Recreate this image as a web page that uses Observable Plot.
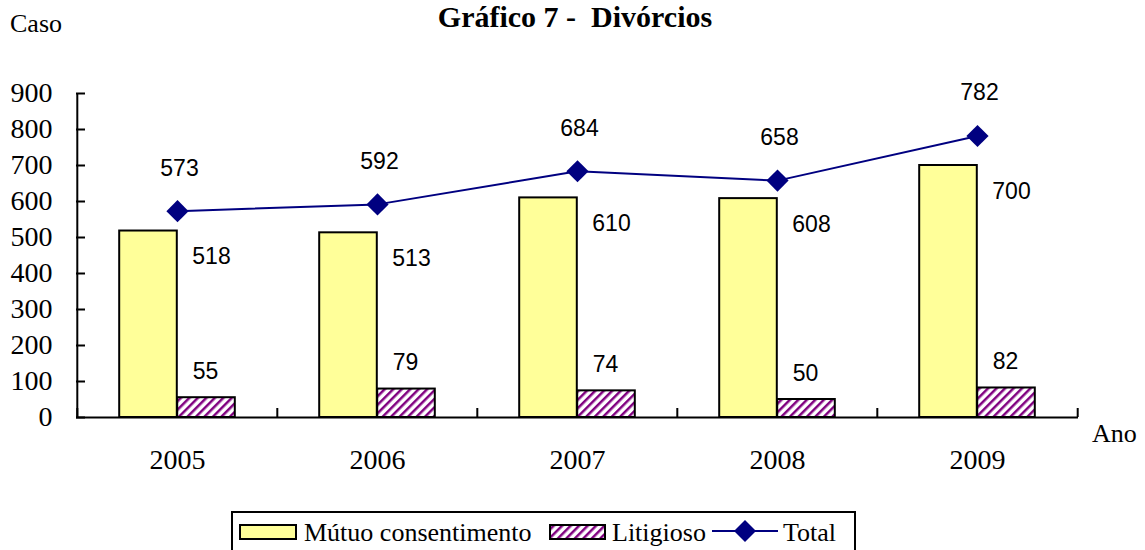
<!DOCTYPE html>
<html>
<head>
<meta charset="utf-8">
<script src="https://cdn.jsdelivr.net/npm/d3@7"></script>
<script src="https://cdn.jsdelivr.net/npm/@observablehq/plot@0.6"></script>
<style>
  body { margin: 0; background: #fff; }
  #chart { position: relative; width: 1145px; height: 550px; overflow: hidden; }
</style>
</head>
<body>
<div id="chart"></div>
<script>
// ---- data ----
const years = ["2005", "2006", "2007", "2008", "2009"];
const mutuo = [518, 513, 610, 608, 700];
const litigioso = [55, 79, 74, 50, 82];
const total = [573, 592, 684, 658, 782];
const yTicks = [0, 100, 200, 300, 400, 500, 600, 700, 800, 900];
const seriesNames = ["Mútuo consentimento", "Litigioso", "Total"];
const titleText = "Gráfico 7 -  Divórcios";
const yLabel = "Caso";
const xLabel = "Ano";

// ---- layout ----
const rows = years.map((year, i) => ({year, mutuo: mutuo[i], litigioso: litigioso[i], total: total[i]}));
const W = 1145, H = 550, mL = 76, mR = 67, mT = 93, mB = 133;
const plotW = W - mL - mR, plotH = H - mT - mB;
const bw = plotW / years.length;
const barW = 58;
const serif = "Liberation Serif, Times New Roman, serif";
const sans = "Liberation Sans, Arial, sans-serif";
const yellow = "#FFFF99", purple = "#800080", navy = "#000080";

const plot = Plot.plot({
  width: W, height: H,
  marginLeft: mL, marginRight: mR, marginTop: mT, marginBottom: mB,
  style: {fontFamily: serif, fontSize: "28px", background: "white", color: "black"},
  x: {type: "band", domain: years, padding: 0},
  y: {domain: [0, 900]},
  marks: [
    Plot.barY(rows, {x: "year", y: "mutuo", fill: yellow, stroke: "black", strokeWidth: 2,
      insetLeft: bw / 2 - barW, insetRight: bw / 2}),
    Plot.barY(rows, {x: "year", y: "litigioso", fill: "url(#hatch)", stroke: "black", strokeWidth: 2,
      insetLeft: bw / 2, insetRight: bw / 2 - barW}),
    Plot.ruleY([0], {stroke: "black", strokeWidth: 2}),
    Plot.ruleX([years[0]], {dx: -bw / 2, stroke: "black", strokeWidth: 2}),
    Plot.ruleY(yTicks, {insetRight: plotW - 9, stroke: "black", strokeWidth: 2}),
    Plot.ruleX(years, {dx: -bw / 2, insetTop: plotH - 9, stroke: "black", strokeWidth: 2}),
    Plot.ruleX([years[years.length - 1]], {dx: bw / 2, insetTop: plotH - 9, stroke: "black", strokeWidth: 2}),
    Plot.line(rows, {x: "year", y: "total", stroke: navy, strokeWidth: 2}),
    Plot.dot(rows, {x: "year", y: "total", symbol: "diamond2", r: 10, fill: navy, stroke: "none"}),
    Plot.text(rows, {x: "year", y: "mutuo", text: d => String(d.mutuo), dx: 34, dy: 26,
      fontFamily: sans, fontSize: 23, fill: "black"}),
    Plot.text(rows, {x: "year", y: "litigioso", text: d => String(d.litigioso), dx: 28, dy: -26,
      fontFamily: sans, fontSize: 23, fill: "black"}),
    Plot.text(rows, {x: "year", y: "total", text: d => String(d.total), dx: 2, dy: -43,
      fontFamily: sans, fontSize: 23, fill: "black"}),
    Plot.axisY({ticks: yTicks, tickSize: 0, tickPadding: 24, label: null, tickFormat: d => String(d),
      fontFamily: serif, fontSize: 28, fill: "black"}),
    Plot.axisX({tickSize: 0, tickPadding: 32, label: null, fontFamily: serif, fontSize: 28, fill: "black"})
  ]
});

const svg = d3.select(plot);
svg.insert("defs", ":first-child").html(`
  <pattern id="hatch" patternUnits="userSpaceOnUse" width="6" height="6" patternTransform="rotate(45)">
    <rect width="6" height="6" fill="white"></rect>
    <rect x="0" y="0" width="2.5" height="6" fill="${purple}"></rect>
  </pattern>`);

// title and axis names
svg.append("text").attr("x", 575).attr("y", 27).attr("text-anchor", "middle")
  .attr("font-family", serif).attr("font-size", 30).attr("font-weight", "bold")
  .attr("fill", "black").attr("xml:space", "preserve").style("white-space", "pre").text(titleText);
svg.append("text").attr("x", 10).attr("y", 32).attr("text-anchor", "start")
  .attr("font-family", serif).attr("font-size", 26).attr("fill", "black").text(yLabel);
svg.append("text").attr("x", 1092).attr("y", 442).attr("text-anchor", "start")
  .attr("font-family", serif).attr("font-size", 26).attr("fill", "black").text(xLabel);

// legend
const lg = svg.append("g").attr("fill", "black");
lg.append("rect").attr("x", 232).attr("y", 512).attr("width", 623).attr("height", 60)
  .attr("fill", "white").attr("stroke", "black").attr("stroke-width", 2);
lg.append("rect").attr("x", 240).attr("y", 525).attr("width", 56).attr("height", 14)
  .attr("fill", yellow).attr("stroke", "black").attr("stroke-width", 2);
lg.append("rect").attr("x", 550).attr("y", 525).attr("width", 55).attr("height", 14)
  .attr("fill", "url(#hatch)").attr("stroke", "black").attr("stroke-width", 2);
lg.append("line").attr("x1", 712).attr("x2", 778).attr("y1", 531).attr("y2", 531)
  .attr("stroke", navy).attr("stroke-width", 2);
lg.append("path").attr("d", "M745,520L756,531L745,542L734,531Z").attr("fill", navy);
[[304, seriesNames[0]], [612, seriesNames[1]], [783, seriesNames[2]]].forEach(([x, t]) => {
  lg.append("text").attr("x", x).attr("y", 541).attr("text-anchor", "start")
    .attr("font-family", serif).attr("font-size", 26).attr("fill", "black").text(t);
});

document.getElementById("chart").appendChild(plot);
</script>
</body>
</html>
